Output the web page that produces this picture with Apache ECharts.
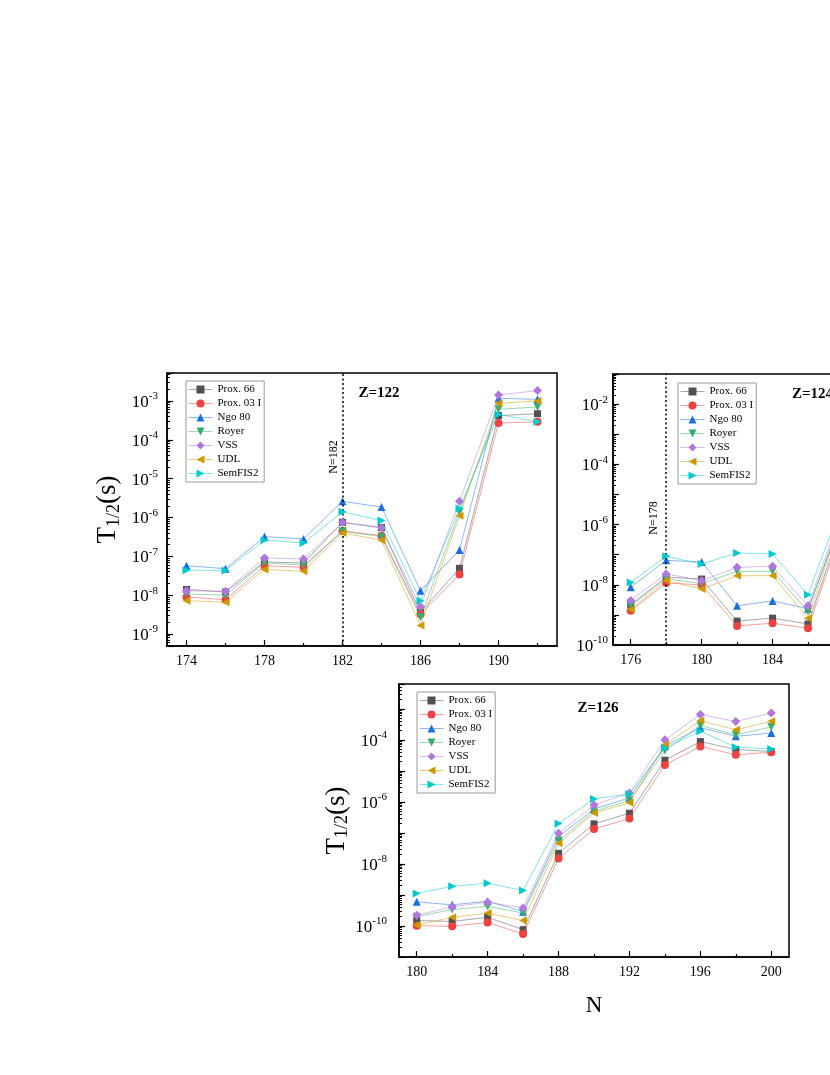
<!DOCTYPE html>
<html>
<head>
<meta charset="utf-8">
<script src="https://cdn.jsdelivr.net/npm/echarts@6/dist/echarts.min.js"></script>
<style>
  html, body { margin: 0; padding: 0; background: #fff; }
  #chart { width: 830px; height: 1075px; }
</style>
</head>
<body>
<div id="chart"></div>
<script>
// ---- Z = 122 ----
const N_122 = [174, 176, 178, 180, 182, 184, 186, 188, 190, 192];
const Z122_PROX66  = [1.4e-8, 1.2e-8, 7.2e-8, 6.7e-8, 7.5e-7, 5.5e-7, 3.6e-9, 4.9e-8, 4.2e-4, 4.7e-4];
const Z122_PROX03  = [9.0e-9, 7.6e-9, 5.7e-8, 5.2e-8, 4.5e-7, 3.4e-7, 3.2e-9, 3.4e-8, 2.7e-4, 2.9e-4];
const Z122_NGO80   = [5.7e-8, 4.8e-8, 3.2e-7, 2.8e-7, 2.6e-6, 1.86e-6, 1.3e-8, 1.45e-7, 1.17e-3, 1.1e-3];
const Z122_ROYER   = [1.07e-8, 1.0e-8, 6.8e-8, 5.9e-8, 4.4e-7, 3.2e-7, 2.7e-9, 1.4e-6, 6.1e-4, 7.0e-4];
const Z122_VSS     = [1.3e-8, 1.26e-8, 9.1e-8, 8.5e-8, 7.4e-7, 5.4e-7, 5.0e-9, 2.6e-6, 1.42e-3, 1.85e-3];
const Z122_UDL     = [7.2e-9, 6.6e-9, 4.6e-8, 4.1e-8, 4.0e-7, 2.6e-7, 1.65e-9, 1.1e-6, 8.7e-4, 1.0e-3];
const Z122_SEMFIS2 = [4.4e-8, 4.3e-8, 2.6e-7, 2.2e-7, 1.4e-6, 8.3e-7, 7.2e-9, 1.7e-6, 4.5e-4, 2.9e-4];

// ---- Z = 124 (right part of this panel is cut off in the figure) ----
const N_124 = [176, 178, 180, 182, 184, 186, 188];
const Z124_PROX66  = [2.2e-9, 1.8e-8, 1.55e-8, 6.2e-10, 7.8e-10, 5.0e-10, 1.5e-6];
const Z124_PROX03  = [1.36e-9, 1.14e-8, 1.0e-8, 4.3e-10, 5.3e-10, 3.6e-10, 1.0e-6];
const Z124_NGO80   = [8.3e-9, 6.5e-8, 5.7e-8, 2.0e-9, 2.9e-9, 1.6e-9, 2.0e-6];
const Z124_ROYER   = [2.0e-9, 1.6e-8, 1.1e-8, 2.8e-8, 2.8e-8, 1.3e-9, 3.0e-6];
const Z124_VSS     = [3.0e-9, 2.3e-8, 1.36e-8, 3.8e-8, 4.1e-8, 2.0e-9, 4.0e-6];
const Z124_UDL     = [1.5e-9, 1.4e-8, 7.2e-9, 2.0e-8, 2.0e-8, 7.8e-10, 2.5e-6];
const Z124_SEMFIS2 = [1.2e-8, 8.8e-8, 4.9e-8, 1.14e-7, 1.05e-7, 4.7e-9, 6.8e-6];

// ---- Z = 126 ----
const N_126 = [180, 182, 184, 186, 188, 190, 192, 194, 196, 198, 200];
const Z126_PROX66  = [1.5e-10, 1.4e-10, 1.9e-10, 7.6e-11, 2.2e-8, 1.96e-7, 4.3e-7, 2.2e-5, 8.8e-5, 4.9e-5, 4.2e-5];
const Z126_PROX03  = [1.02e-10, 9.8e-11, 1.3e-10, 5.5e-11, 1.5e-8, 1.34e-7, 2.9e-7, 1.55e-5, 6.1e-5, 3.3e-5, 4.0e-5];
const Z126_NGO80   = [6.0e-10, 4.8e-10, 6.3e-10, 2.9e-10, 7.6e-8, 5.9e-7, 1.35e-6, 6.3e-5, 2.45e-4, 1.3e-4, 1.65e-4];
const Z126_ROYER   = [2.0e-10, 3.4e-10, 4.3e-10, 2.6e-10, 5.6e-8, 5.0e-7, 1.1e-6, 4.5e-5, 2.9e-4, 1.45e-4, 2.6e-4];
const Z126_VSS     = [2.2e-10, 4.2e-10, 5.8e-10, 3.8e-10, 9.7e-8, 8.0e-7, 1.95e-6, 1.0e-4, 6.6e-4, 3.9e-4, 7.3e-4];
const Z126_UDL     = [1.07e-10, 1.9e-10, 2.6e-10, 1.5e-10, 4.6e-8, 4.4e-7, 9.3e-7, 6.9e-5, 4.2e-4, 2.1e-4, 4.0e-4];
const Z126_SEMFIS2 = [1.12e-9, 1.9e-9, 2.4e-9, 1.38e-9, 2.0e-7, 1.25e-6, 1.8e-6, 5.5e-5, 1.9e-4, 5.8e-5, 5.1e-5];

// tick labels (x) and the shorter in-between ticks
const X_LABELS_122 = [174, 178, 182, 186, 190];
const X_MINOR_122  = [176, 180, 184, 188, 192];
const X_LABELS_124 = [176, 180, 184, 188, 192, 196];
const X_MINOR_124  = [178, 182, 186, 190, 194];
const X_LABELS_126 = [180, 184, 188, 192, 196, 200];
const X_MINOR_126  = [182, 186, 190, 194, 198];

const NAMES = ['Prox. 66', 'Prox. 03 I', 'Ngo 80', 'Royer', 'VSS', 'UDL', 'SemFIS2'];

const FONT = 'Liberation Serif';
const COLORS = ['#515151', '#F14040', '#1A6FDF', '#37AD6B', '#B177DE', '#CC9900', '#00CBCC'];
const SYMBOLS = ['rect', 'circle', 'triangle', 'triangle', 'diamond', 'triangle', 'triangle'];
const ROTATE = [0, 0, 0, 180, 0, 90, -90];
const SIZES = [7, 8, 8, 8, 9, 8, 8];

const panels = [
  {
    n: N_122,
    sets: [Z122_PROX66, Z122_PROX03, Z122_NGO80, Z122_ROYER, Z122_VSS, Z122_UDL, Z122_SEMFIS2],
    xMin: 173, xMax: 193, yMin: Math.pow(10, -9.31), yMax: Math.pow(10, -2.28),
    xLabels: X_LABELS_122, xMinor: X_MINOR_122, marker: 182, labelStep: 1, labelMargin: 9,
    grid: { left: 167, top: 373, width: 390, height: 273 },
    legend: { left: 186, top: 381 },
    yName: true, xName: false
  },
  {
    // this panel runs past the right edge of the picture
    n: N_124,
    sets: [Z124_PROX66, Z124_PROX03, Z124_NGO80, Z124_ROYER, Z124_VSS, Z124_UDL, Z124_SEMFIS2],
    xMin: 175, xMax: 197, yMin: 1e-10, yMax: 1e-1,
    xLabels: X_LABELS_124, xMinor: X_MINOR_124, marker: 178, labelStep: 2, labelMargin: 5,
    grid: { left: 613, top: 374, width: 390, height: 271 },
    legend: { left: 678, top: 383 },
    yName: false, xName: false
  },
  {
    n: N_126,
    sets: [Z126_PROX66, Z126_PROX03, Z126_NGO80, Z126_ROYER, Z126_VSS, Z126_UDL, Z126_SEMFIS2],
    xMin: 179, xMax: 201, yMin: 1e-11, yMax: Math.pow(10, -2.2),
    xLabels: X_LABELS_126, xMinor: X_MINOR_126, marker: null, labelStep: 2, labelMargin: 12,
    grid: { left: 399, top: 684, width: 390, height: 273 },
    legend: { left: 417, top: 692 },
    yName: true, xName: true
  }
];

const AXIS_LINE = { show: true, lineStyle: { color: '#000', width: 1.5 } };
const TICK_LINE = { color: '#000', width: 1.2 };

const powLabel = (step) => (v) => {
  const e = Math.log10(v);
  const r = Math.round(e);
  if (Math.abs(e - r) > 1e-6 || r % step !== 0) return '';
  return '{b|10}{s|' + r + '}';
};

const grid = [], xAxis = [], yAxis = [], legend = [], series = [];

panels.forEach((p, i) => {
  grid.push(Object.assign({
    show: true, borderColor: '#000', borderWidth: 1.5, backgroundColor: 'transparent',
    outerBoundsMode: 'none', containLabel: false
  }, p.grid));

  xAxis.push({
    type: 'value', gridIndex: i, min: p.xMin, max: p.xMax,
    axisLine: AXIS_LINE,
    axisTick: { inside: true, length: 6, customValues: p.xLabels, lineStyle: TICK_LINE },
    axisLabel: { customValues: p.xLabels, color: '#000', fontFamily: FONT, fontSize: 14, margin: 8 },
    splitLine: { show: false },
    name: p.xName ? 'N' : '',
    nameLocation: 'middle', nameGap: 37,
    nameTextStyle: { color: '#000', fontFamily: FONT, fontSize: 23 }
  });

  yAxis.push({
    type: 'log', logBase: 10, gridIndex: i, min: p.yMin, max: p.yMax,
    axisLine: AXIS_LINE,
    axisTick: { inside: true, length: 6, lineStyle: TICK_LINE },
    minorTick: { show: true, splitNumber: 9, length: 3, lineStyle: { color: '#000', width: 1 } },
    axisLabel: {
      formatter: powLabel(p.labelStep), margin: p.labelMargin, showMinLabel: true, showMaxLabel: true,
      rich: {
        b: { fontFamily: FONT, fontSize: 17, color: '#000', lineHeight: 20, verticalAlign: 'bottom' },
        s: { fontFamily: FONT, fontSize: 11, color: '#000', lineHeight: 20, verticalAlign: 'top' }
      }
    },
    splitLine: { show: false },
    name: p.yName ? 'T{sub|1/2}(s)' : '',
    nameLocation: 'middle', nameRotate: 90, nameGap: 44,
    nameTextStyle: {
      color: '#000', fontFamily: FONT, fontSize: 27,
      rich: { sub: { fontFamily: FONT, fontSize: 18, color: '#000', padding: [12, 0, 0, 0] } }
    }
  });

  legend.push({
    data: NAMES, orient: 'vertical', left: p.legend.left, top: p.legend.top,
    itemWidth: 24, itemHeight: 10, itemGap: 3, padding: [3, 3, 3, 2],
    borderColor: '#999', borderWidth: 1, borderRadius: 0,
    lineStyle: { width: 1 },
    textStyle: { fontFamily: FONT, fontSize: 11, color: '#000' },
    selectedMode: false
  });

  p.sets.forEach((vals, k) => {
    const s = {
      type: 'line', name: NAMES[k], xAxisIndex: i, yAxisIndex: i,
      data: p.n.map((x, j) => [x, vals[j]]),
      symbol: SYMBOLS[k], symbolRotate: ROTATE[k], symbolSize: SIZES[k],
      itemStyle: { color: COLORS[k], opacity: 1 },
      lineStyle: { width: 1, color: COLORS[k], opacity: 0.5 },
      emphasis: { disabled: true },
      z: 2 + k
    };
    if (k === 0 && p.marker !== null) {
      s.markLine = {
        silent: true, symbol: 'none', animation: false,
        label: { show: false },
        lineStyle: { color: '#000', width: 1.5, type: [2, 2.5] },
        data: [{ xAxis: p.marker }]
      };
    }
    series.push(s);
  });
});

// overlay grids: only carry the short in-between x ticks
panels.forEach((p, i) => {
  grid.push(Object.assign({ show: false, outerBoundsMode: 'none', containLabel: false }, p.grid));
  xAxis.push({
    type: 'value', gridIndex: 3 + i, min: p.xMin, max: p.xMax,
    axisLine: { show: false },
    axisTick: { inside: true, length: 3, customValues: p.xMinor, lineStyle: TICK_LINE },
    axisLabel: { show: false }, splitLine: { show: false }
  });
  yAxis.push({ type: 'value', gridIndex: 3 + i, min: 0, max: 1, show: false });
});

const textStyle = (extra) => Object.assign({ fill: '#000', fontFamily: FONT }, extra);

const option = {
  animation: false,
  backgroundColor: '#fff',
  grid, xAxis, yAxis, legend, series,
  graphic: [
    { type: 'text', x: 379, y: 393, style: textStyle({ text: 'Z=122', fontSize: 15, fontWeight: 'bold', align: 'center', verticalAlign: 'middle' }) },
    { type: 'text', x: 792, y: 394, style: textStyle({ text: 'Z=124', fontSize: 15, fontWeight: 'bold', align: 'left', verticalAlign: 'middle' }) },
    { type: 'text', x: 598, y: 708, style: textStyle({ text: 'Z=126', fontSize: 15, fontWeight: 'bold', align: 'center', verticalAlign: 'middle' }) },
    { type: 'text', x: 334, y: 457, rotation: Math.PI / 2, style: textStyle({ text: 'N=182', fontSize: 12, align: 'center', verticalAlign: 'middle' }) },
    { type: 'text', x: 654, y: 518, rotation: Math.PI / 2, style: textStyle({ text: 'N=178', fontSize: 12, align: 'center', verticalAlign: 'middle' }) }
  ]
};

const chart = echarts.init(document.getElementById('chart'), null, { renderer: 'canvas' });
chart.setOption(option);
</script>
</body>
</html>
